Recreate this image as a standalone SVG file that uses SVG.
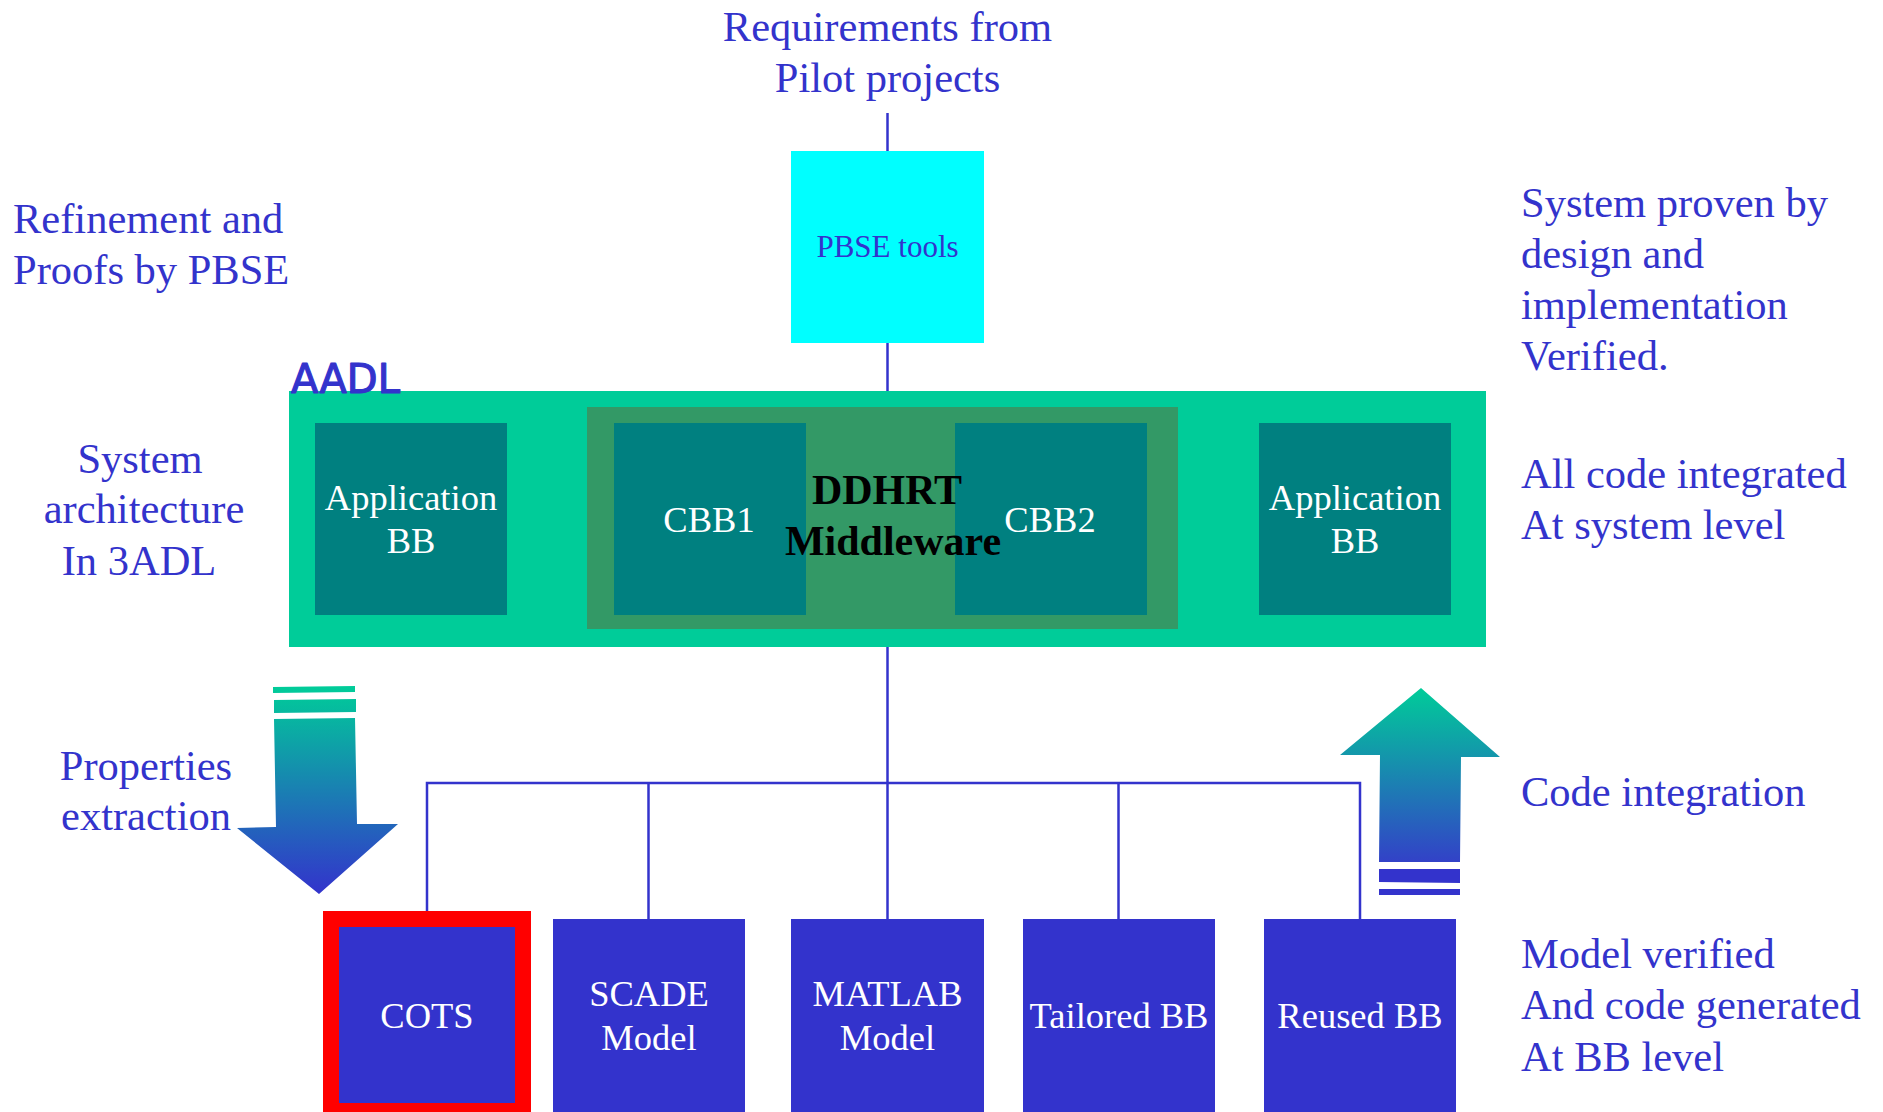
<svg xmlns="http://www.w3.org/2000/svg" width="1883" height="1112" viewBox="0 0 1883 1112">
  <style>
    .note { font-family: "Liberation Serif", "Times New Roman", serif; font-size: 42.5px; fill: #3333CC; }
    .box-label { font-family: "Liberation Serif", "Times New Roman", serif; font-size: 36.5px; fill: #FFFFFF; text-anchor: middle; }
    .bb { fill: #3333CC; }
    .cbb { fill: #008080; }
    .wire { stroke: #3333CC; stroke-width: 2.5; fill: none; }
    .mw { font-family: "Liberation Serif", "Times New Roman", serif; font-weight: bold; font-size: 42px; fill: #000000; text-anchor: middle; }
  </style>
  <defs>
    <linearGradient id="gradDown" gradientUnits="userSpaceOnUse" x1="0" y1="687" x2="0" y2="894">
      <stop offset="0" stop-color="#00CC99"/>
      <stop offset="1" stop-color="#3333CC"/>
    </linearGradient>
    <linearGradient id="gradUp" gradientUnits="userSpaceOnUse" x1="0" y1="688" x2="0" y2="895">
      <stop offset="0" stop-color="#00CC99"/>
      <stop offset="0.85" stop-color="#3340C8"/>
      <stop offset="1" stop-color="#3333CC"/>
    </linearGradient>
  </defs>

  <rect width="1883" height="1112" fill="#FFFFFF"/>

  <!-- connectors -->
  <g id="connectors">
    <line class="wire" x1="887.5" y1="113" x2="887.5" y2="151"/>
    <line class="wire" x1="887.5" y1="342" x2="887.5" y2="392"/>
    <line class="wire" x1="887.5" y1="646" x2="887.5" y2="783"/>
    <polyline class="wire" points="427,911 427,783 1360,783 1360,919"/>
    <line class="wire" x1="648.5" y1="783" x2="648.5" y2="919"/>
    <line class="wire" x1="887.5" y1="783" x2="887.5" y2="919"/>
    <line class="wire" x1="1118.5" y1="783" x2="1118.5" y2="919"/>
  </g>

  <!-- free-standing annotations -->
  <g id="annotations">
    <text class="note" x="887.5" y="41" text-anchor="middle">Requirements from</text>
    <text class="note" x="887.5" y="92" text-anchor="middle">Pilot projects</text>

    <text class="note" x="13" y="233">Refinement and</text>
    <text class="note" x="13" y="284">Proofs by PBSE</text>

    <text class="note" x="140" y="473" text-anchor="middle">System</text>
    <text class="note" x="144" y="523" text-anchor="middle">architecture</text>
    <text class="note" x="139" y="575" text-anchor="middle">In 3ADL</text>

    <text class="note" x="146" y="780" text-anchor="middle">Properties</text>
    <text class="note" x="146" y="830" text-anchor="middle">extraction</text>

    <text class="note" x="1521" y="217">System proven by</text>
    <text class="note" x="1521" y="268">design and</text>
    <text class="note" x="1521" y="319">implementation</text>
    <text class="note" x="1521" y="370">Verified.</text>

    <text class="note" x="1521" y="488">All code integrated</text>
    <text class="note" x="1521" y="539">At system level</text>

    <text class="note" x="1521" y="806">Code integration</text>

    <text class="note" x="1521" y="968">Model verified</text>
    <text class="note" x="1521" y="1019">And code generated</text>
    <text class="note" x="1521" y="1071">At BB level</text>
  </g>

  <!-- PBSE tools -->
  <g id="pbse-tools">
    <rect x="791" y="151" width="193" height="192" fill="#00FFFF"/>
    <text x="887.5" y="257" text-anchor="middle" font-family="Liberation Serif, Times New Roman, serif" font-size="31" fill="#3333CC">PBSE tools</text>
  </g>

  <!-- AADL system architecture -->
  <g id="aadl-system">
    <rect x="289" y="391" width="1197" height="256" fill="#00CC99"/>
    <text x="291" y="393" font-family="DejaVu Sans, sans-serif" font-size="40" fill="#3333CC" stroke="#3333CC" stroke-width="1.2" stroke-linejoin="round">AADL</text>
  </g>

  <g id="middleware">
    <rect x="587" y="407" width="591" height="222" fill="#339966"/>
  </g>

  <g id="app-bb-left">
    <rect class="cbb" x="315" y="423" width="192" height="192"/>
    <text class="box-label" x="411" y="510">Application</text>
    <text class="box-label" x="411" y="553">BB</text>
  </g>

  <g id="cbb1">
    <rect class="cbb" x="614" y="423" width="192" height="192"/>
    <text class="box-label" x="709" y="532">CBB1</text>
  </g>

  <g id="cbb2">
    <rect class="cbb" x="955" y="423" width="192" height="192"/>
    <text class="box-label" x="1050" y="532">CBB2</text>
  </g>

  <g id="middleware-label">
    <text class="mw" x="887" y="504">DDHRT</text>
    <text class="mw" x="893" y="555">Middleware</text>
  </g>

  <g id="app-bb-right">
    <rect class="cbb" x="1259" y="423" width="192" height="192"/>
    <text class="box-label" x="1355" y="510">Application</text>
    <text class="box-label" x="1355" y="553">BB</text>
  </g>

  <!-- extraction / integration arrows -->
  <g id="arrow-extraction">
    <polygon points="273,687 355,686 355,692 273,693" fill="url(#gradDown)"/>
    <polygon points="274,700 356,699 356,712 274,713" fill="url(#gradDown)"/>
    <polygon points="274,719 355,718 357,824 398,824 319,894 237,828 276,827" fill="url(#gradDown)"/>
  </g>

  <g id="arrow-integration">
    <polygon points="1421,688 1500,757 1461,757 1460,862 1379,862 1380,755 1340,755" fill="url(#gradUp)"/>
    <polygon points="1379,869 1460,869 1460,883 1379,882" fill="#3333CC"/>
    <polygon points="1379,889 1460,889 1460,895 1379,895" fill="#3333CC"/>
  </g>

  <!-- building blocks -->
  <g id="cots">
    <rect x="331" y="919" width="192" height="192" fill="#3333CC" stroke="#FF0000" stroke-width="16"/>
    <text class="box-label" x="427" y="1028">COTS</text>
  </g>

  <g id="scade-model">
    <rect class="bb" x="553" y="919" width="192" height="193"/>
    <text class="box-label" x="649" y="1006">SCADE</text>
    <text class="box-label" x="649" y="1050">Model</text>
  </g>

  <g id="matlab-model">
    <rect class="bb" x="791" y="919" width="193" height="193"/>
    <text class="box-label" x="887.5" y="1006">MATLAB</text>
    <text class="box-label" x="887.5" y="1050">Model</text>
  </g>

  <g id="tailored-bb">
    <rect class="bb" x="1023" y="919" width="192" height="193"/>
    <text class="box-label" x="1119" y="1028">Tailored BB</text>
  </g>

  <g id="reused-bb">
    <rect class="bb" x="1264" y="919" width="192" height="193"/>
    <text class="box-label" x="1360" y="1028">Reused BB</text>
  </g>
</svg>
